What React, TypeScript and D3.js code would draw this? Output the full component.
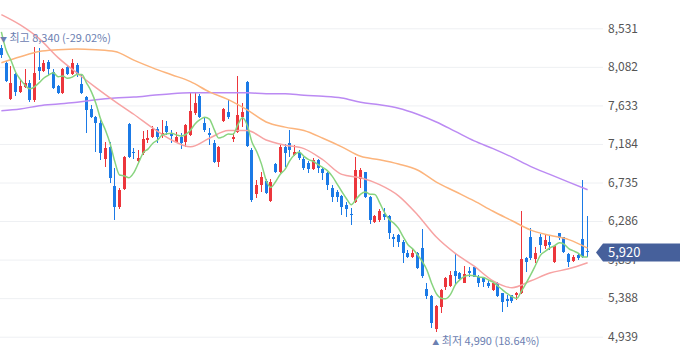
import React, { useRef, useEffect } from "react";
import * as d3 from "d3";

// daily candles, oldest first: [open, high, low, close]
const candles: number[][] = [
  [8300, 8340, 8190, 8220], [8130, 8150, 7910, 7920], [7710, 8090, 7700, 7890], [8000, 8010, 7740, 7790],
  [7790, 7930, 7780, 7860], [7850, 8060, 7840, 7890], [7890, 7930, 7670, 7700], [7700, 8310, 7670, 8010],
  [8080, 8300, 7930, 8030], [8030, 8160, 8020, 8130], [8140, 8160, 7990, 8060], [8020, 8060, 7820, 7840],
  [7860, 7870, 7770, 7780], [7780, 8070, 7770, 8060], [8080, 8090, 7990, 8000], [8000, 8170, 7990, 8130],
  [8100, 8130, 7960, 7990], [7880, 7990, 7770, 7780], [7730, 7740, 7310, 7580], [7590, 7640, 7490, 7500],
  [7500, 7510, 7090, 7430], [7430, 7460, 7000, 7080], [7010, 7210, 6920, 7140], [7150, 7210, 6730, 6790],
  [6690, 6900, 6300, 6450], [6450, 6670, 6430, 6650], [6660, 7040, 6650, 7030], [7420, 7430, 7020, 7030],
  [7090, 7140, 7010, 7080], [6990, 7110, 6970, 7020], [7080, 7340, 7060, 7240], [7230, 7350, 7200, 7250],
  [7270, 7390, 7250, 7360], [7360, 7380, 7200, 7270], [7280, 7460, 7250, 7310], [7390, 7450, 7290, 7320],
  [7310, 7350, 7200, 7280], [7210, 7320, 7200, 7270], [7270, 7310, 7130, 7200], [7210, 7420, 7150, 7400],
  [7290, 7780, 7280, 7570], [7550, 7780, 7520, 7660], [7740, 7770, 7490, 7500], [7430, 7500, 7320, 7350],
  [7310, 7370, 7170, 7290], [7200, 7230, 6960, 6970], [6970, 7160, 6920, 7150], [7450, 7600, 7440, 7590],
  [7560, 7710, 7480, 7500], [7240, 7310, 7210, 7270], [7320, 7980, 7310, 7520], [7500, 7660, 7380, 7560],
  [7910, 7920, 7150, 7160], [7110, 7140, 6510, 6530], [6600, 6760, 6560, 6710], [6710, 6860, 6620, 6800],
  [6750, 6780, 6600, 6610], [6520, 6780, 6510, 6740], [6950, 6960, 6850, 6860], [6860, 7170, 6850, 7150],
  [7150, 7180, 6920, 7080], [7200, 7350, 7030, 7110], [7060, 7170, 7040, 7090], [7090, 7110, 7000, 7020],
  [7010, 7030, 6880, 6900], [6960, 6990, 6850, 6890], [6890, 7020, 6880, 7000], [7000, 7010, 6850, 6900],
  [6890, 6920, 6760, 6850], [6850, 6860, 6650, 6710], [6670, 6710, 6510, 6570], [6620, 6650, 6510, 6570],
  [6580, 6590, 6360, 6450], [6470, 6510, 6330, 6430], [6370, 6440, 6240, 6360], [6510, 7030, 6500, 6880],
  [6780, 6900, 6670, 6880], [6860, 6860, 6560, 6570], [6570, 6580, 6250, 6300], [6280, 6360, 6260, 6350],
  [6300, 6430, 6280, 6400], [6370, 6440, 6300, 6330], [6350, 6360, 6080, 6150], [6100, 6140, 5980, 6080],
  [6120, 6140, 5980, 6040], [6040, 6070, 5800, 5910], [5910, 5950, 5860, 5870], [5870, 5960, 5860, 5910],
  [5910, 5930, 5730, 5740], [5970, 6190, 5620, 5650], [5500, 5570, 5380, 5410], [5410, 5430, 5040, 5100],
  [5030, 5310, 4990, 5300], [5290, 5500, 5220, 5480], [5520, 5630, 5480, 5620], [5530, 5700, 5520, 5660],
  [5700, 5900, 5540, 5650], [5680, 5690, 5600, 5610], [5570, 5760, 5560, 5670], [5700, 5750, 5630, 5680],
  [5750, 5760, 5630, 5640], [5630, 5660, 5520, 5570], [5630, 5640, 5520, 5580], [5570, 5600, 5510, 5530],
  [5480, 5580, 5470, 5560], [5560, 5580, 5400, 5410], [5450, 5450, 5230, 5340], [5380, 5430, 5290, 5360],
  [5430, 5430, 5330, 5360], [5430, 5460, 5370, 5450], [5450, 6400, 5440, 5840], [5860, 5870, 5690, 5810],
  [6100, 6210, 5830, 5860], [5840, 5980, 5800, 5910], [6100, 6140, 5910, 6010], [6000, 6120, 5960, 6070],
  [6040, 6120, 5950, 6010], [5810, 6000, 5800, 5990], [6150, 6150, 6070, 6090], [6100, 6100, 5910, 5930],
  [5900, 5910, 5750, 5810], [5820, 5890, 5810, 5870], [5890, 5910, 5830, 5860], [6080, 6760, 5860, 5870],
  [5940, 6350, 5870, 5920],
];

// closes of the four sessions before the first visible one (for the 5-day average)
const priorCloses = [8980, 8470, 8490, 8290];

// longer averages, one value every maStep candles
const maStep = 4;
const ma20 = [8690, 8570, 8410, 8190, 8010, 7840, 7680, 7530, 7370, 7230, 7150, 7250, 7340, 7340, 7230, 7170,
  7130, 7000, 6830, 6790, 6710, 6580, 6360, 6100, 5910, 5760, 5590, 5510, 5590, 5680, 5730, 5800];
const ma60 = [8130, 8200, 8260, 8280, 8290, 8280, 8260, 8160, 8070, 7990, 7910, 7790, 7700, 7580, 7440, 7380,
  7340, 7250, 7150, 7040, 7000, 6950, 6880, 6740, 6630, 6520, 6400, 6290, 6180, 6120, 6070, 5970];
const ma120 = [7570, 7590, 7630, 7650, 7670, 7700, 7720, 7730, 7750, 7770, 7780, 7780, 7780, 7780, 7770, 7770,
  7750, 7740, 7720, 7670, 7640, 7600, 7530, 7440, 7330, 7220, 7130, 7030, 6920, 6830, 6740, 6650];

const priceTicks = [4939, 5388, 5837, 6286, 6735, 7184, 7633, 8082, 8531];
const lastPrice = 5920;

const highIndex = 0;
const highPrice = 8340;
const highText = "최고 8,340 (-29.02%)";
const lowIndex = 92;
const lowPrice = 4990;
const lowText = "최저 4,990 (18.64%)";

const font = "'Noto Sans CJK KR', 'Noto Sans', sans-serif";

function CandleChart() {
  const svgRef = useRef<SVGSVGElement>(null);

  useEffect(() => {
    const svg = d3.select(svgRef.current);
    svg.selectAll("*").remove();

    const width = 680;
    const height = 358;
    svg.attr("width", width).attr("height", height);

    const x = d3.scaleBand<number>()
      .domain(d3.range(candles.length))
      .range([-1, 590]);
    const cx = (i: number) => (x(i) as number) + x.bandwidth() / 2;

    const y = d3.scaleLinear()
      .domain([4939, 8531])
      .range([336.7, 28.3]);

    // grid
    const grid = svg.append("g")
      .attr("transform", "translate(603,0)")
      .call(d3.axisLeft(y).tickValues(priceTicks).tickSize(603).tickFormat(() => ""));
    grid.select(".domain").remove();
    grid.selectAll("line").attr("stroke", "#eef0f3");

    // price axis
    const axis = svg.append("g")
      .attr("transform", "translate(603,0)")
      .call(d3.axisRight(y).tickValues(priceTicks).tickSize(0).tickPadding(5).tickFormat(d3.format(",")));
    axis.select(".domain").remove();
    axis.selectAll("text")
      .attr("fill", "#555")
      .style("font-size", "12px")
      .style("font-family", font);

    // candles
    const up = "#ec363c";
    const down = "#1b7ae6";
    const g = svg.append("g").attr("shape-rendering", "crispEdges");
    candles.forEach(([o, h, l, c], i) => {
      const color = c >= o ? up : down;
      const bx = Math.round(cx(i) - 1.5);
      g.append("rect")
        .attr("x", bx + 1).attr("width", 1)
        .attr("y", y(h)).attr("height", Math.max(1, y(l) - y(h)))
        .attr("fill", color);
      const top = y(Math.max(o, c));
      g.append("rect")
        .attr("x", bx).attr("width", 3)
        .attr("y", top).attr("height", Math.max(1, y(Math.min(o, c)) - top))
        .attr("fill", color);
    });

    // moving averages
    const closes = [...priorCloses, ...candles.map(d => d[3])];
    const ma5 = candles.map((_, i) => [i, d3.mean(closes.slice(i, i + 5)) as number]);
    const sampled = (vals: number[]) => vals.map((v, k) => [k * maStep, v]);

    const line = d3.line<number[]>()
      .x(d => cx(d[0]))
      .y(d => y(d[1]))
      .curve(d3.curveMonotoneX);

    const mas: [number[][], string][] = [
      [sampled(ma120), "#bb8af3"],
      [sampled(ma60), "#fcb47c"],
      [sampled(ma20), "#f7a3a3"],
      [ma5, "#88d47f"],
    ];
    mas.forEach(([pts, color]) => {
      svg.append("path")
        .datum(pts)
        .attr("d", line)
        .attr("fill", "none")
        .attr("stroke", color)
        .attr("stroke-width", 1.5);
    });

    // high / low marks
    const markColor = "#6c80b1";
    const hi = svg.append("text")
      .attr("x", Math.max(0, cx(highIndex) - 3))
      .attr("y", y(highPrice) - 2.5)
      .attr("fill", markColor)
      .style("font-family", font)
      .style("font-size", "11px");
    hi.append("tspan").text("▼").style("font-size", "7px");
    hi.append("tspan").text(" " + highText);

    const lo = svg.append("text")
      .attr("x", cx(lowIndex) - 4)
      .attr("y", y(lowPrice) + 12.5)
      .attr("fill", markColor)
      .style("font-family", font)
      .style("font-size", "11px");
    lo.append("tspan").text("▲").style("font-size", "7px");
    lo.append("tspan").text(" " + lowText);

    // current price tag
    const py = y(lastPrice);
    svg.append("path")
      .attr("d", `M596,${py} L603,${py - 9} L680,${py - 9} L680,${py + 9} L603,${py + 9} Z`)
      .attr("fill", "#46609b");
    svg.append("text")
      .attr("x", 608)
      .attr("y", py)
      .attr("dy", "0.35em")
      .attr("fill", "#fff")
      .style("font-family", font)
      .style("font-size", "13px")
      .text(d3.format(",")(lastPrice));
  }, []);

  return (
    <svg ref={svgRef} style={{ position: "absolute", left: 0, top: 0, background: "#fff" }}></svg>
  );
}

export default function App() {
  return <CandleChart />;
}
